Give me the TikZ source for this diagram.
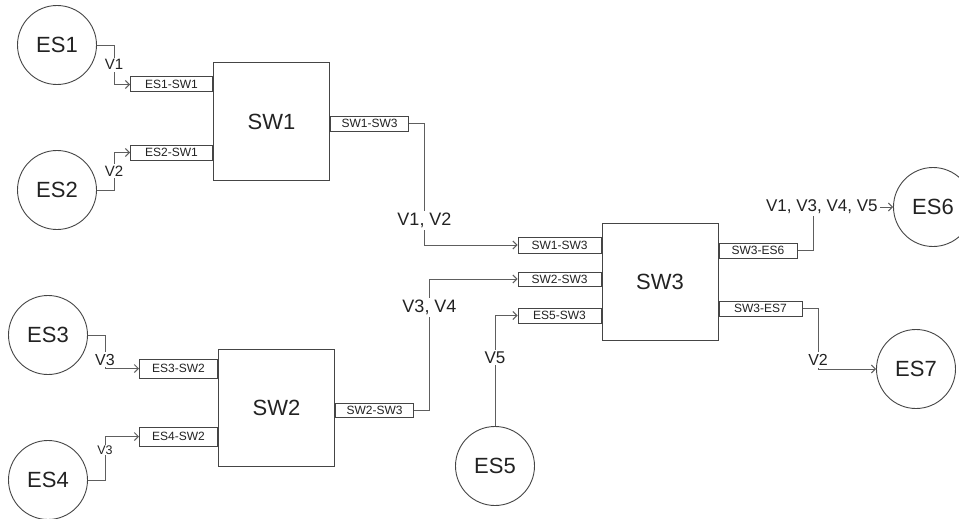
\documentclass[tikz,border=0pt]{standalone}
\usepackage{fontspec}
\setmainfont{Liberation Sans}
\usetikzlibrary{arrows.meta}
\definecolor{linegray}{HTML}{5E5E5E}
\definecolor{boxgray}{HTML}{454545}
\definecolor{txtgray}{HTML}{222222}
\tikzset{
  es/.style={circle,draw=boxgray,line width=0.9pt,minimum size=79pt,inner sep=0pt,text=txtgray,font=\fontsize{22}{24}\selectfont},
  sw/.style={draw=boxgray,line width=1pt,minimum width=116pt,minimum height=117pt,text=txtgray,font=\fontsize{22}{24}\selectfont},
  port/.style={draw=boxgray,fill=white,line width=1pt,minimum height=15pt,inner sep=0pt,text=txtgray,font=\fontsize{12}{13}\selectfont},
  link/.style={draw=linegray,line width=0.95pt,-{Straight Barb[length=4pt,width=8pt]}},
  vlab/.style={fill=white,inner sep=2pt,text=txtgray},
}

\begin{document}
\begin{tikzpicture}[x=1pt,y=-1pt]
  \useasboundingbox (0,0) rectangle (959,519);
  % end stations
  \foreach \n/\x/\y in {1/57/45,2/57/190,3/48/335,4/48/480,5/495/466,6/933/207,7/916/369}
    \node[es] (es\n) at (\x,\y) {ES\n};
  % switches
  \node[sw] (sw1) at (271.5,121.5) {SW1};
  \node[sw] (sw2) at (276.5,407.5) {SW2};
  \node[sw] (sw3) at (660,281.5) {SW3};
  % ports
  \node[port,minimum width=82pt,anchor=north east] (p11) at ([yshift=-14pt]sw1.north west) {ES1-SW1};
  \node[port,minimum width=82pt,anchor=north east] (p21) at ([yshift=-82pt]sw1.north west) {ES2-SW1};
  \node[port,minimum width=78pt,anchor=north west] (p13) at ([yshift=-53pt]sw1.north east) {SW1-SW3};
  \node[port,minimum width=78pt,minimum height=19pt,anchor=north east] (s32) at ([yshift=-10pt]sw2.north west) {ES3-SW2};
  \node[port,minimum width=78pt,minimum height=19pt,anchor=north east] (s42) at ([yshift=-78pt]sw2.north west) {ES4-SW2};
  \node[port,minimum width=78pt,minimum height=14pt,anchor=north west] (s23) at ([yshift=-54pt]sw2.north east) {SW2-SW3};
  \node[port,minimum width=83pt,minimum height=16pt,anchor=north east] (q13) at ([yshift=-14pt]sw3.north west) {SW1-SW3};
  \node[port,minimum width=83pt,minimum height=14pt,anchor=north east] (q23) at ([yshift=-49pt]sw3.north west) {SW2-SW3};
  \node[port,minimum width=83pt,anchor=north east] (q53) at ([yshift=-85pt]sw3.north west) {ES5-SW3};
  \node[port,minimum width=78pt,anchor=north west] (r36) at ([yshift=-20pt]sw3.north east) {SW3-ES6};
  \node[port,minimum width=83pt,anchor=north west] (r37) at ([yshift=-78pt]sw3.north east) {SW3-ES7};
  % virtual links
  \draw[link] (es1.east) -| node[vlab,pos=0.75,font=\fontsize{15}{16}\selectfont] {V1} ([xshift=-16pt]p11.west) -- (p11.west);
  \draw[link] (es2.east) -| node[vlab,pos=0.75,font=\fontsize{15}{16}\selectfont] {V2} ([xshift=-16pt]p21.west) -- (p21.west);
  \draw[link] (es3.east) -| node[vlab,pos=0.87,font=\fontsize{16}{17}\selectfont] {V3} ([xshift=-34pt]s32.west) -- (s32.west);
  \draw[link] (es4.east) -| node[vlab,pos=0.845,inner sep=1pt,font=\fontsize{12.5}{13}\selectfont] {V3} ([xshift=-34pt]s42.west) -- (s42.west);
  \draw[link] (es5.north) |- node[vlab,pos=0.31,font=\fontsize{17}{18}\selectfont] {V5} (q53.west);
  \draw[link] (p13.east) -| node[vlab,pos=0.9,font=\fontsize{18}{19}\selectfont] {V1, V2} ([xshift=-93pt]q13.west) -- (q13.west);
  \draw[link] (s23.east) -| node[vlab,pos=0.89,font=\fontsize{18}{19}\selectfont] {V3, V4} ([xshift=-88pt]q23.west) -- (q23.west);
  \draw[link] (r36.east) -| ([xshift=-80pt]es6.west) -- node[vlab,pos=0.11,font=\fontsize{17}{18}\selectfont] {V1, V3, V4, V5} (es6.west);
  \draw[link] (r37.east) -| node[vlab,pos=0.925,font=\fontsize{16}{17}\selectfont] {V2} ([xshift=-58pt]es7.west) -- (es7.west);
\end{tikzpicture}
\end{document}
